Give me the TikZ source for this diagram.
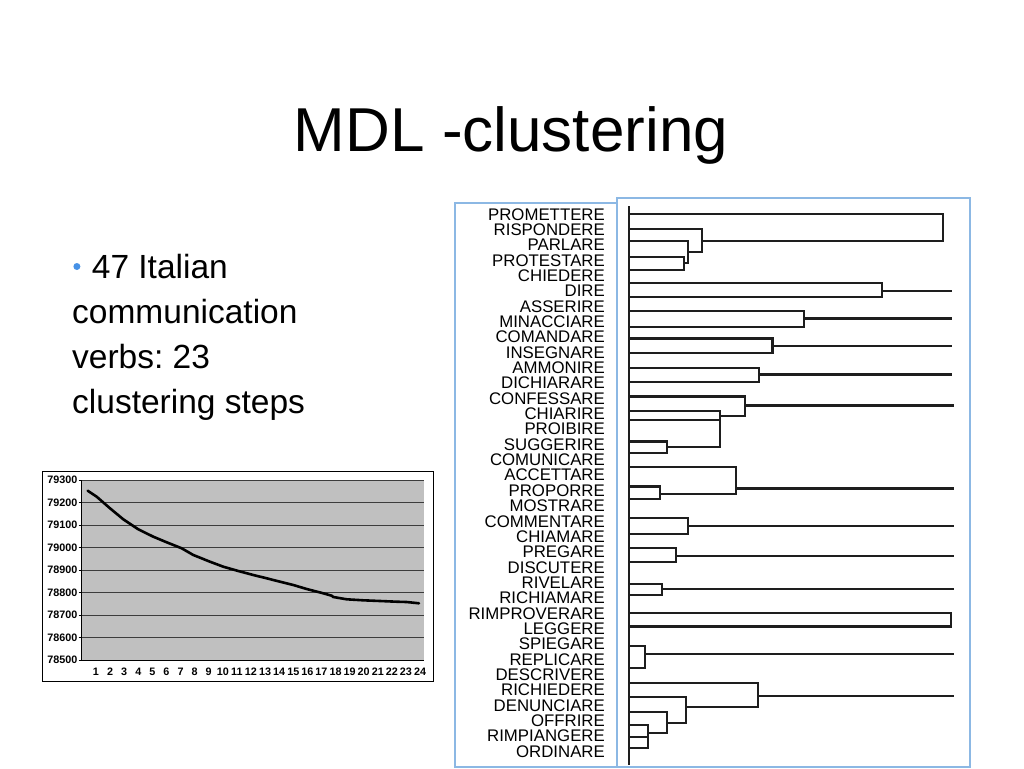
\documentclass[tikz,border=0pt]{standalone}
\usepackage{fontspec}
\setmainfont{Liberation Sans}
\frenchspacing
\definecolor{framec}{RGB}{140,184,228}
\definecolor{denc}{RGB}{30,30,30}
\definecolor{plotgray}{RGB}{192,192,192}
\definecolor{gridc}{RGB}{60,60,60}
\definecolor{bulletc}{RGB}{70,145,230}
\begin{document}
\begin{tikzpicture}[x=1pt,y=-1pt]
\tikzset{
  frame/.style={draw=framec, line width=1.3pt},
  den/.style={draw=denc, line width=2.1pt, line join=miter},
  lab/.style={anchor=base east, inner sep=0pt, font=\fontsize{16.8}{18}\selectfont},
  body/.style={anchor=base west, inner sep=0pt, font=\fontsize{33.5}{40}\selectfont},
  ylab/.style={anchor=east, inner sep=0pt, font=\fontsize{10.8}{12}\selectfont\bfseries},
  xlab/.style={anchor=center, inner sep=0pt, font=\fontsize{10.8}{12}\selectfont\bfseries},
  gridl/.style={draw=gridc, line width=0.8pt},
  curve/.style={draw=black, line width=2.6pt, line join=round, line cap=round}
}
\useasboundingbox (0,0) rectangle (1024,768);
\fill[white] (0,0) rectangle (1024,768);

% title
\node[anchor=base, inner sep=0pt, font=\fontsize{62}{70}\selectfont] (title) at (511,151.7) {MDL -clustering};

% bullet text
\fill[bulletc] (76.9,266.5) circle (3.5);
\node[body] (t1) at (91.7,278) {47 Italian};
\node[body] (t2) at (72,323.3) {communication};
\node[body] (t3) at (72,368.6) {verbs: 23};
\node[body] (t4) at (72,413.9) {clustering steps};

% chart
\fill[white] (42,471.5) rectangle (433,681.5);
\draw[black, line width=0.9pt] (42,471.5) rectangle (433,681.5);
\fill[plotgray] (81.7,480) rectangle (424,660);
\foreach \k in {0,...,7} {
  \draw[gridl] (81.7,{480+22.5*\k}) -- (424,{480+22.5*\k});
}
\draw[black, line width=1pt] (81.7,480) -- (81.7,660) -- (424,660);
\foreach \k in {0,...,8} {
  \draw[black, line width=0.8pt] (78.7,{480+22.5*\k}) -- (81.7,{480+22.5*\k});
}
\foreach \v [count=\k from 0] in {79300,79200,79100,79000,78900,78800,78700,78600,78500} {
  \node[ylab] (y\k) at (77.5,{480+22.5*\k}) {\v};
}
\foreach \k in {1,...,24} {
  \node[xlab] (x\k) at ({96+(\k-1)*14.09},671.7) {\k};
}
\draw[curve] (87.7,490.7) -- (96.7,496.7) -- (110,508.3) -- (123.3,519.3) -- (138.3,529.3)
  -- (153.3,536.7) -- (166.7,542.3) -- (181.7,548.3) -- (193.3,555) -- (210,561.7)
  -- (223.3,566.7) -- (238.3,571) -- (253.3,575) -- (266.7,578.3) -- (280,581.7)
  -- (293.3,585) -- (306.7,589) -- (323.3,593.3) -- (331.7,595.7) -- (333.3,597)
  -- (346.7,599.3) -- (363.3,600.3) -- (380,601) -- (396.7,601.7) -- (406.7,602) -- (419,603.3);

% dendrogram frames
\draw[frame] (455,203) rectangle (617,767);
\draw[frame] (617,198) rectangle (970,767);

% labels
\foreach \w [count=\i from 0] in {PROMETTERE,RISPONDERE,PARLARE,PROTESTARE,CHIEDERE,DIRE,ASSERIRE,MINACCIARE,COMANDARE,INSEGNARE,AMMONIRE,DICHIARARE,CONFESSARE,CHIARIRE,PROIBIRE,SUGGERIRE,COMUNICARE,ACCETTARE,PROPORRE,MOSTRARE,COMMENTARE,CHIAMARE,PREGARE,DISCUTERE,RIVELARE,RICHIAMARE,RIMPROVERARE,LEGGERE,SPIEGARE,REPLICARE,DESCRIVERE,RICHIEDERE,DENUNCIARE,OFFRIRE,RIMPIANGERE,ORDINARE} {
  \node[lab] (l\i) at (605,{220.2+15.34*\i}) {\w};
}

% dendrogram
\draw[den] (629,206) -- (629,765);
% group 1
\draw[den] (629,214.3) -- (943,214.3) -- (943,240.7) -- (702,240.7);
\draw[den] (629,229) -- (702,229) -- (702,252.3) -- (688,252.3);
\draw[den] (629,240.7) -- (688,240.7) -- (688,263) -- (684,263);
\draw[den] (629,256.7) -- (684,256.7) -- (684,270) -- (629,270);
% DIRE
\draw[den] (629,283.3) -- (881.7,283.3) -- (881.7,297) -- (629,297);
\draw[den] (881.7,291) -- (952,291);
% MINACCIARE
\draw[den] (629,311.3) -- (804.3,311.3) -- (804.3,326.7) -- (629,326.7);
\draw[den] (804.3,318.5) -- (952,318.5);
% COMANDARE
\draw[den] (629,338.5) -- (772.5,338.5) -- (772.5,352.7) -- (629,352.7);
\draw[den] (772.5,346) -- (952,346);
% AMMONIRE
\draw[den] (629,367.7) -- (759,367.7) -- (759,382.3) -- (629,382.3);
\draw[den] (759,374.5) -- (952,374.5);
% CONFESSARE
\draw[den] (629,396.5) -- (745,396.5) -- (745,415.7) -- (720,415.7);
\draw[den] (745,405.5) -- (954,405.5);
\draw[den] (629,411) -- (720,411) -- (720,447.3) -- (666.7,447.3);
\draw[den] (629,420) -- (720,420);
\draw[den] (629,441.5) -- (666.7,441.5) -- (666.7,453) -- (629,453);
% ACCETTARE
\draw[den] (629,467) -- (736,467) -- (736,494) -- (660,494);
\draw[den] (736,488.5) -- (954,488.5);
\draw[den] (629,486.5) -- (660,486.5) -- (660,499.3) -- (629,499.3);
% COMMENTARE
\draw[den] (629,518.3) -- (688.3,518.3) -- (688.3,534) -- (629,534);
\draw[den] (688.3,526) -- (954,526);
% PREGARE
\draw[den] (629,547.7) -- (676,547.7) -- (676,561.7) -- (629,561.7);
\draw[den] (676,555.7) -- (954,555.7);
% RIVELARE
\draw[den] (629,584) -- (662.3,584) -- (662.3,595) -- (629,595);
\draw[den] (662.3,589) -- (954,589);
% RIMPROVERARE
\draw[den] (629,613.3) -- (951,613.3) -- (951,626.5) -- (629,626.5);
% SPIEGARE
\draw[den] (629,646) -- (645,646) -- (645,668.3) -- (629,668.3);
\draw[den] (645,654) -- (954,654);
% RICHIEDERE
\draw[den] (629,683.3) -- (757.7,683.3) -- (757.7,707.3) -- (685.7,707.3);
\draw[den] (757.7,696) -- (954,696);
\draw[den] (629,697.3) -- (685.7,697.3) -- (685.7,723.3) -- (666.7,723.3);
\draw[den] (629,711.7) -- (666.7,711.7) -- (666.7,733.3) -- (648.3,733.3);
\draw[den] (629,725) -- (648.3,725) -- (648.3,748.3) -- (629,748.3);
\draw[den] (629,737.3) -- (648.3,737.3);
\end{tikzpicture}
\end{document}
